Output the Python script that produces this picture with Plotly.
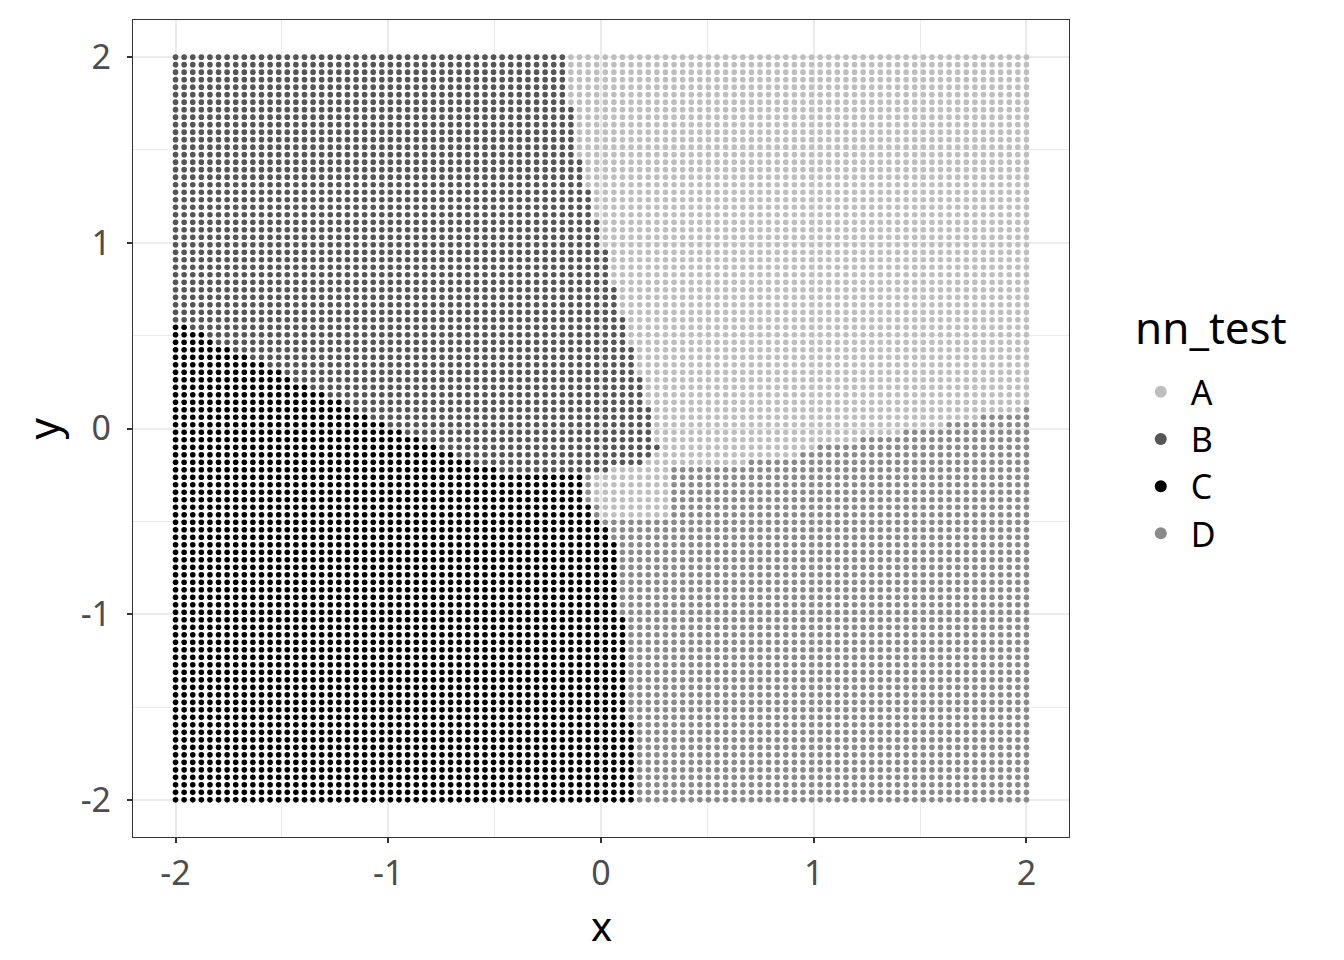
import numpy as np
import plotly.graph_objects as go

# ---- data -------------------------------------------------------------
grid_x = np.linspace(-2, 2, 100)          # 100 columns (k)
grid_y = np.linspace(-2, 2, 100)          # 100 rows (j)
classes = ["A", "B", "C", "D"]
class_colors = ["#BEBEBE", "#555555", "#000000", "#8A8A8A"]

# last column index of class C in each row range: (row_from, row_to, k_max)
c_edge = [(0, 10, 53), (11, 24, 52), (25, 34, 51), (35, 36, 50), (37, 37, 49),
          (38, 39, 48), (40, 43, 47), (44, 44, 37), (45, 45, 34), (46, 46, 32),
          (47, 47, 30), (48, 48, 28), (49, 49, 26), (50, 50, 24), (51, 51, 22),
          (52, 52, 20), (53, 53, 19), (54, 54, 17), (55, 55, 15), (56, 56, 13),
          (57, 57, 12), (58, 58, 10), (59, 59, 8), (60, 60, 6), (61, 61, 4),
          (62, 62, 3), (63, 63, 1)]
# last column index of class B in each row range (upper half)
b_edge = [(44, 44, 50), (45, 45, 54), (46, 46, 55), (47, 47, 56), (48, 52, 55),
          (53, 56, 54), (57, 60, 53), (61, 64, 52), (65, 68, 51), (69, 73, 50),
          (74, 77, 49), (78, 81, 48), (82, 85, 47), (86, 92, 46), (93, 99, 45)]
# top row of class D in each column range (right side): (col_from, col_to, j_top)
d_top = [(58, 66, 44), (67, 72, 45), (73, 74, 46), (75, 79, 47), (80, 84, 48),
         (85, 89, 49), (90, 93, 50), (94, 98, 51), (99, 99, 52)]
# class A pocket below the centre: (row_from, row_to, col_from, col_to)
a_pocket = [(38, 39, 50, 57), (40, 43, 49, 57)]

legend_title = "nn_test"
x_title = "x"
y_title = "y"


def lookup(ranges, idx, default):
    for lo, hi, v in ranges:
        if lo <= idx <= hi:
            return v
    return default


pts = {c: ([], []) for c in classes}
for j, yv in enumerate(grid_y):
    cmax = lookup(c_edge, j, -1)
    bmax = lookup(b_edge, j, -1)
    for k, xv in enumerate(grid_x):
        if k <= cmax:
            cl = "C"
        elif j >= 44:
            if k <= bmax:
                cl = "B"
            elif j <= lookup(d_top, k, -1):
                cl = "D"
            else:
                cl = "A"
        else:
            cl = "D"
            for r0, r1, k0, k1 in a_pocket:
                if r0 <= j <= r1 and k0 <= k <= k1:
                    cl = "A"
        pts[cl][0].append(xv)
        pts[cl][1].append(yv)

# ---- figure -----------------------------------------------------------
FONT = "Noto Sans"
fig = go.Figure()
for c, col in zip(classes, class_colors):
    fig.add_trace(go.Scatter(
        x=pts[c][0], y=pts[c][1], mode="markers", name=c, legendgroup=c,
        marker=dict(color=col, size=5.6, line=dict(width=0)),
    ))

axis_common = dict(
    range=[-2.2, 2.2], tickvals=[-2, -1, 0, 1, 2],
    ticktext=["-2", "-1", "0", "1", "2"],
    showgrid=True, gridcolor="#EBEBEB", gridwidth=2.2, zeroline=False,
    minor=dict(tickvals=[-1.5, -0.5, 0.5, 1.5], showgrid=True,
               gridcolor="#EBEBEB", gridwidth=1.1, ticks=""),
    ticks="outside", ticklen=5, tickwidth=2, tickcolor="#333333",
    showline=True, linecolor="#333333", linewidth=1.3, mirror=True,
    tickfont=dict(family=FONT, size=34, color="#4D4D4D"),
)
fig.update_xaxes(**axis_common, ticklabelstandoff=1)
fig.update_yaxes(**axis_common, ticklabelstandoff=9)

fig.update_layout(
    width=1344, height=960,
    margin=dict(l=125, r=283, t=12, b=131),
    paper_bgcolor="white", plot_bgcolor="white",
    font=dict(family=FONT, color="#000000"),
    legend=dict(
        font=dict(family=FONT, size=34),
        x=1.066, xanchor="left", y=0.58, yanchor="top",
        itemsizing="constant", itemwidth=50, tracegroupgap=0,
        bgcolor="rgba(0,0,0,0)",
    ),
    annotations=[
        dict(text=legend_title, xref="paper", yref="paper", x=1.0684, y=0.624,
             xanchor="left", yanchor="middle", showarrow=False,
             font=dict(family=FONT, size=44, color="#000000")),
        dict(text=x_title, xref="paper", yref="paper", x=0.5, y=-0.1016,
             xanchor="center", yanchor="middle", showarrow=False, yshift=-5,
             font=dict(family=FONT, size=40, color="#000000")),
        dict(text=y_title, xref="paper", yref="paper", x=-0.0972, y=0.5,
             xanchor="center", yanchor="middle", showarrow=False, textangle=-90,
             font=dict(family=FONT, size=42, color="#000000")),
    ],
)

fig.write_html("out.html")
